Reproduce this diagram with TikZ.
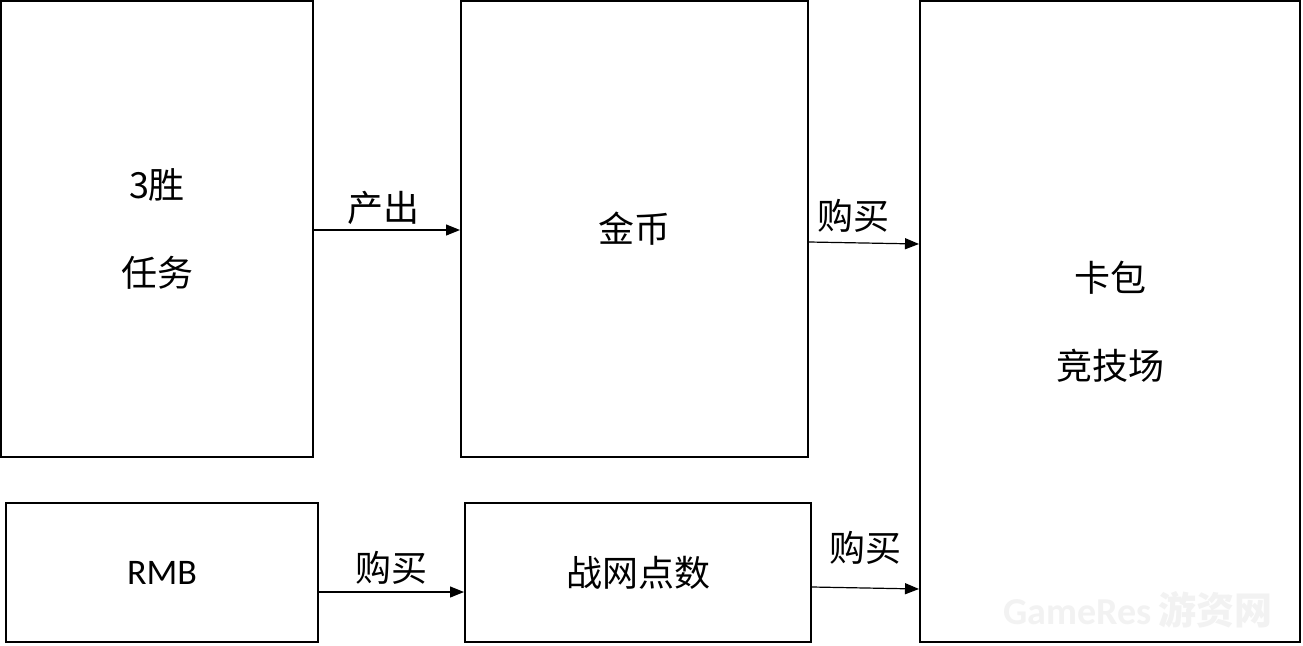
\documentclass[tikz,border=0pt]{standalone}
\usepackage{fontspec}
\setmainfont{Carlito}
\newfontfamily\cjk{Noto Sans CJK SC}
\usetikzlibrary{arrows.meta}
\begin{document}
\begin{tikzpicture}[x=1pt,y=-1pt,
  boxnode/.style={draw=black,line width=2pt,inner sep=0pt,fill=white,
    font=\fontsize{36}{88}\selectfont\cjk,align=center},
  conn/.style={line width=1.2pt,-{Triangle[length=14pt,width=11pt]}},
  lbl/.style={font=\fontsize{36}{40}\selectfont\cjk,inner sep=0pt,anchor=center}]
\useasboundingbox (0,0) rectangle (1303,645);
\node[boxnode,minimum width=312pt,minimum height=456pt] (A) at (157,229) {3胜\\任务};
\node[boxnode,minimum width=347pt,minimum height=456pt] (B) at (634.5,229) {金币};
\node[boxnode,minimum width=380pt,minimum height=641pt] (C) at (1110,321.5) {卡包\\竞技场};
\node[boxnode,minimum width=312pt,minimum height=139pt,font=\fontsize{36}{40}\selectfont] (D) at (162,572.5) {RMB};
\node[boxnode,minimum width=346pt,minimum height=139pt] (E) at (638,572.5) {战网点数};
\draw[conn] (A.east |- 0,230) -- (B.west |- 0,230) node[lbl,midway,yshift=22pt,xshift=-4pt] (l1) {产出};
\draw[conn] (B.east |- 0,242) -- (C.west |- 0,244) node[lbl,midway,yshift=27pt,xshift=-11pt] (l2) {购买};
\draw[conn] (D.east |- 0,592) -- (E.west |- 0,592) node[lbl,midway,yshift=24pt] (l3) {购买};
\draw[conn] (E.east |- 0,587) -- (C.west |- 0,589) node[lbl,midway,yshift=40pt] (l4) {购买};
\node[text=black!5,font=\fontsize{38}{40}\selectfont\bfseries,inner sep=0pt] (wm) at (1138,610) {GameRes\,{\cjk 游资网}};
\end{tikzpicture}
\end{document}
